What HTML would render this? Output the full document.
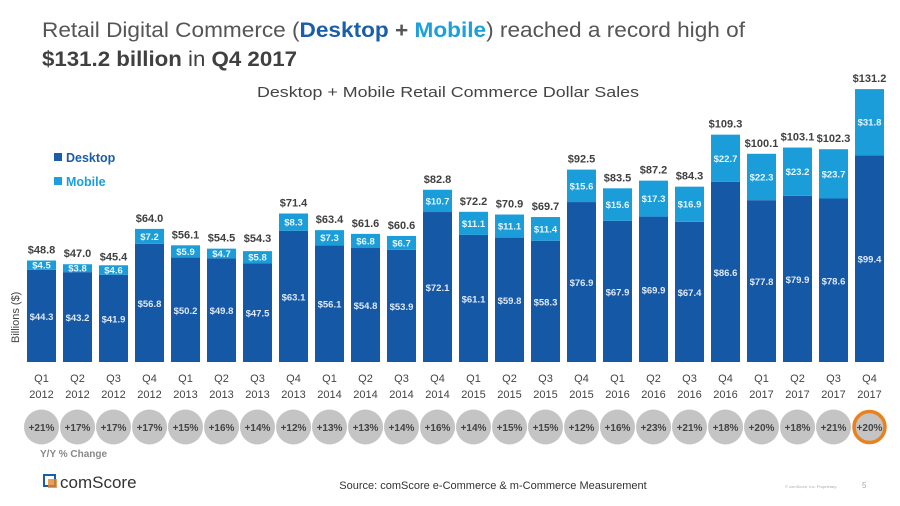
<!DOCTYPE html>
<html><head><meta charset="utf-8"><style>
html,body{margin:0;padding:0;background:#fff;}
svg{display:block;font-family:"Liberation Sans",sans-serif;}
</style></head><body>
<svg id="chart" width="900" height="506" viewBox="0 0 900 506">
<text x="42" y="37" font-size="21" fill="#555" textLength="703" lengthAdjust="spacingAndGlyphs">Retail Digital Commerce (<tspan font-weight="bold" fill="#1a5ea8">Desktop</tspan> <tspan font-weight="bold" fill="#555">+</tspan> <tspan font-weight="bold" fill="#1ba0dc">Mobile</tspan>) reached a record high of</text>
<text x="42" y="66" font-size="21" fill="#404040" textLength="255" lengthAdjust="spacingAndGlyphs"><tspan font-weight="bold">$131.2 billion</tspan> in <tspan font-weight="bold">Q4 2017</tspan></text>
<text x="448" y="97" font-size="15" fill="#444" text-anchor="middle" textLength="382" lengthAdjust="spacingAndGlyphs">Desktop + Mobile Retail Commerce Dollar Sales</text>
<g>
<rect x="54" y="153" width="8" height="8" fill="#1a5ea8"/>
<text x="66" y="162" font-size="12.5" font-weight="bold" fill="#1a5ea8">Desktop</text>
<rect x="54" y="177" width="8" height="8" fill="#1ba0dc"/>
<text x="66" y="186" font-size="12.5" font-weight="bold" fill="#1ba0dc">Mobile</text>
</g>
<text transform="translate(19,343) rotate(-90)" font-size="11" fill="#444">Billions ($)</text>
<g id="bars"></g>
<text x="40" y="457" font-size="10" font-weight="bold" fill="#888">Y/Y % Change</text>
<g>
<rect x="44" y="475" width="11" height="11" fill="none" stroke="#1a5ea8" stroke-width="2"/>
<rect x="48" y="479" width="9" height="9" fill="#e6862a" opacity="0.8"/>
<text x="60" y="488" font-size="17" fill="#333">comScore</text>
</g>
<text x="493" y="489" font-size="11" fill="#333" text-anchor="middle">Source: comScore e-Commerce &amp; m-Commerce Measurement</text>
<text x="785" y="488" font-size="4" fill="#aaa">© comScore, Inc. Proprietary.</text>
<text x="862" y="488" font-size="8" fill="#aaa">5</text>
</svg>
<script>
const quarters=["Q1","Q2","Q3","Q4","Q1","Q2","Q3","Q4","Q1","Q2","Q3","Q4","Q1","Q2","Q3","Q4","Q1","Q2","Q3","Q4","Q1","Q2","Q3","Q4"];
const years=["2012","2012","2012","2012","2013","2013","2013","2013","2014","2014","2014","2014","2015","2015","2015","2015","2016","2016","2016","2016","2017","2017","2017","2017"];
const desktop=[44.3,43.2,41.9,56.8,50.2,49.8,47.5,63.1,56.1,54.8,53.9,72.1,61.1,59.8,58.3,76.9,67.9,69.9,67.4,86.6,77.8,79.9,78.6,99.4];
const mobile=[4.5,3.8,4.6,7.2,5.9,4.7,5.8,8.3,7.3,6.8,6.7,10.7,11.1,11.1,11.4,15.6,15.6,17.3,16.9,22.7,22.3,23.2,23.7,31.8];
const totals=[48.8,47.0,45.4,64.0,56.1,54.5,54.3,71.4,63.4,61.6,60.6,82.8,72.2,70.9,69.7,92.5,83.5,87.2,84.3,109.3,100.1,103.1,102.3,131.2];
const yoy=[21,17,17,17,15,16,14,12,13,13,14,16,14,15,15,12,16,23,21,18,20,18,21,20];
const NS="http://www.w3.org/2000/svg";
const g=document.getElementById('bars');
const base=362,k=2.08;
function xPos(i){return 27+i*36;}
function yPos(v){return base-v*k;}
const bw=29;
function mk(tag,attrs,txt){const e=document.createElementNS(NS,tag);for(const a in attrs)e.setAttribute(a,attrs[a]);if(txt!==undefined)e.textContent=txt;g.appendChild(e);return e;}
for(let i=0;i<quarters.length;i++){
  const x=xPos(i),cx=x+bw/2;
  const yd=yPos(desktop[i]);
  const yt=yPos(desktop[i]+mobile[i]);
  let e=mk('rect',{x:x,y:yd,width:bw,height:base-yd,fill:'#1458a6'});
  
  
  e=mk('rect',{x:x,y:yt,width:bw,height:yd-yt,fill:'#1a9dd9'});
  
  
  e=mk('text',{x:cx,y:(yd+base)/2+4,'font-size':9.5,'font-weight':'bold',fill:'#dfe8f5','text-anchor':'middle'},'$'+desktop[i].toFixed(1));
  
  
  e=mk('text',{x:cx,y:(yt+yd)/2+3.5,'font-size':9.5,'font-weight':'bold',fill:'#e8f6fd','text-anchor':'middle'},'$'+mobile[i].toFixed(1));
  
  
  e=mk('text',{x:cx,y:yPos(totals[i])-7,'font-size':11,'font-weight':'bold',fill:'#404040','text-anchor':'middle'},'$'+totals[i].toFixed(1));
  
  
  e=mk('text',{x:cx,y:382,'font-size':11,fill:'#444','text-anchor':'middle'},quarters[i]);
  
  
  e=mk('text',{x:cx,y:398,'font-size':11,fill:'#444','text-anchor':'middle'},years[i]);
  
  
  const last=i===quarters.length-1;
  e=mk('circle',{cx:cx,cy:427,r:last?15.5:17.5,fill:'#c4c4c4',stroke:last?'#e8821e':'none','stroke-width':last?3.5:0});
  
  
  e=mk('text',{x:cx,y:431,'font-size':10,'font-weight':'bold',fill:'#444','text-anchor':'middle'},'+'+yoy[i]+'%');
  
  
}
</script>
</body></html>
